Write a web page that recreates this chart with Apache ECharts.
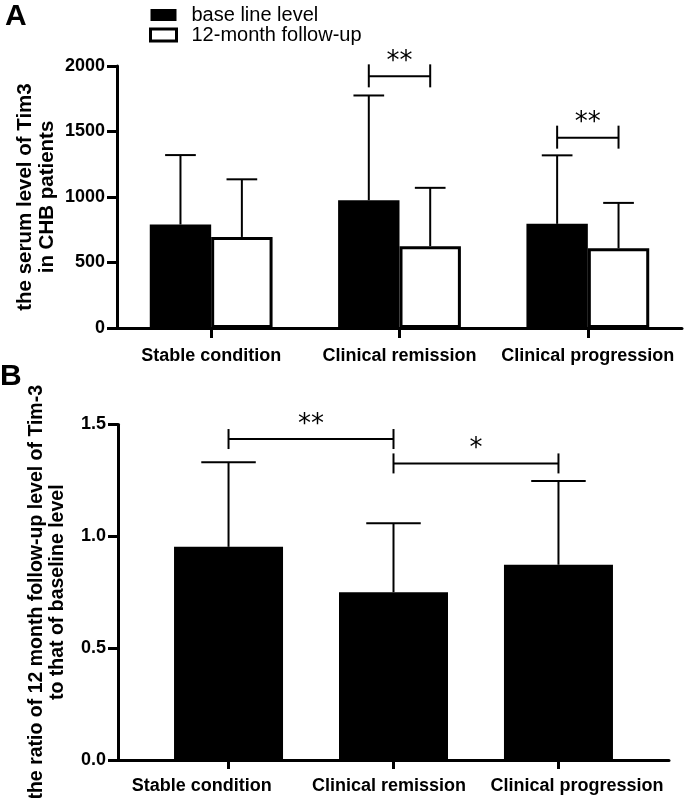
<!DOCTYPE html>
<html><head><meta charset="utf-8">
<script src="https://cdn.jsdelivr.net/npm/echarts@6/dist/echarts.min.js"></script>
<style>html,body{margin:0;padding:0;background:#fff}#c{width:685px;height:798px}</style>
</head><body><div id="c"></div>
<script>
// ---------- data ----------
const categories = ['Stable condition', 'Clinical remission', 'Clinical progression'];
const seriesNames = ['base line level', '12-month follow-up'];
const baselineLevel = [790, 975, 795];
const baselineSD = [530, 800, 523];
const followUpLevel = [695, 625, 608];
const followUpSD = [440, 445, 347];
const ratioLevel = [0.953, 0.75, 0.873];
const ratioSD = [0.378, 0.308, 0.374];
const yTicksA = [0, 500, 1000, 1500, 2000];
const yTicksB = [0, 0.5, 1.0, 1.5];
const sigA = [{cat: 1, y: 1921, text: '**'}, {cat: 2, y: 1453, text: '**'}];
const sigB = [{from: 0, to: 1, y: 1.435, text: '**'}, {from: 1, to: 2, y: 1.326, text: '*'}];
const catPos = [0, 1, 2];

// ---------- style / layout ----------
const FONT = 'Liberation Sans, Arial, Helvetica, sans-serif';
const BAR_FRAC_A = 0.326;
const BAR_W_B = 109;
const STAR_FONT = '26px DejaVu Sans';
const LABEL_POS_B = [-0.163, 0.973, 2.112]; // category label anchors on panel B (spread as in the figure)

const chart = echarts.init(document.getElementById('c'), null, {renderer: 'canvas'});

function errA(side) {
  return function (params, api) {
    const i = api.value(0);
    const band = api.size([1, 0])[0];
    const bw = band * BAR_FRAC_A;
    const p0 = api.coord([i, api.value(1)]);
    const p1 = api.coord([i, api.value(2)]);
    const x = p0[0] + side * bw / 2;
    const cap = bw / 4;
    return {type: 'group', children: [
      {type: 'line', shape: {x1: x, y1: p0[1], x2: x, y2: p1[1]}, style: {stroke: '#000', lineWidth: 2}},
      {type: 'line', shape: {x1: x - cap, y1: p1[1], x2: x + cap, y2: p1[1]}, style: {stroke: '#000', lineWidth: 2}}
    ]};
  };
}
function errB(params, api) {
  const p0 = api.coord([api.value(0), api.value(1)]);
  const p1 = api.coord([api.value(0), api.value(2)]);
  const x = p0[0];
  const cap = BAR_W_B / 4;
  return {type: 'group', children: [
    {type: 'line', shape: {x1: x, y1: p0[1], x2: x, y2: p1[1]}, style: {stroke: '#000', lineWidth: 2}},
    {type: 'line', shape: {x1: x - cap, y1: p1[1], x2: x + cap, y2: p1[1]}, style: {stroke: '#000', lineWidth: 2}}
  ]};
}
function bracket(x1, x2, y, txt, tickUp, tickDown) {
  return {type: 'group', children: [
    {type: 'line', shape: {x1: x1, y1: y, x2: x2, y2: y}, style: {stroke: '#000', lineWidth: 2}},
    {type: 'line', shape: {x1: x1, y1: y - tickUp, x2: x1, y2: y + tickDown}, style: {stroke: '#000', lineWidth: 2}},
    {type: 'line', shape: {x1: x2, y1: y - tickUp, x2: x2, y2: y + tickDown}, style: {stroke: '#000', lineWidth: 2}},
    {type: 'text', x: (x1 + x2) / 2, y: y - 14, style: {text: txt, font: STAR_FONT, fill: '#000', align: 'center', verticalAlign: 'middle'}}
  ]};
}
function sigRenderA(params, api) {
  const s = sigA[params.dataIndex];
  const band = api.size([1, 0])[0];
  const bw = band * BAR_FRAC_A;
  const p = api.coord([s.cat, s.y]);
  return bracket(p[0] - bw / 2, p[0] + bw / 2, p[1], s.text, 12, 11);
}
function sigRenderB(params, api) {
  const s = sigB[params.dataIndex];
  const a = api.coord([s.from, s.y]);
  const b = api.coord([s.to, s.y]);
  return bracket(a[0], b[0], a[1], s.text, 10, 10);
}

const axisLineStyle = {color: '#000', width: 3};
const tickLabel = {color: '#000', fontSize: 18, fontWeight: 'bold', fontFamily: FONT};

const option = {
  animation: false,
  backgroundColor: '#fff',
  title: [
    {text: 'A', left: 5, top: 2, padding: 0, textStyle: {fontSize: 30, fontWeight: 'bold', color: '#000', fontFamily: FONT}},
    {text: 'B', left: 0, top: 362, padding: 0, textStyle: {fontSize: 30, fontWeight: 'bold', color: '#000', fontFamily: FONT}}
  ],
  legend: {
    orient: 'vertical', left: 149, top: 5, padding: 0, itemWidth: 26, itemHeight: 12, itemGap: 0,
    selectedMode: false,
    textStyle: {fontSize: 20, lineHeight: 20, color: '#000', fontFamily: FONT, padding: [0, 0, 0, 10]},
    data: [
      {name: seriesNames[0], icon: 'rect', itemStyle: {color: '#000', borderWidth: 0}},
      {name: seriesNames[1], icon: 'rect', itemStyle: {color: '#fff', borderColor: '#000', borderWidth: 3}}
    ]
  },
  grid: [
    {left: 117, top: 66, width: 565, height: 262, outerBoundsMode: 'none', containLabel: false},
    {left: 118, top: 424.5, width: 551, height: 335.5, outerBoundsMode: 'none', containLabel: false}
  ],
  xAxis: [
    {type: 'category', gridIndex: 0, data: categories,
      axisLine: {show: true, lineStyle: axisLineStyle},
      axisTick: {show: true, alignWithLabel: true, length: 10, lineStyle: {color: '#000', width: 3}},
      axisLabel: Object.assign({margin: 19, interval: 0}, tickLabel),
      splitLine: {show: false}},
    {type: 'value', gridIndex: 1, min: -0.67, max: 2.67,
      axisLine: {show: true, onZero: false, lineStyle: axisLineStyle},
      axisTick: {show: true, length: 9, customValues: catPos, lineStyle: {color: '#000', width: 3}},
      axisLabel: Object.assign({margin: 17, customValues: LABEL_POS_B, hideOverlap: false,
        formatter: function (v) {
          let best = 0;
          LABEL_POS_B.forEach(function (p, i) { if (Math.abs(p - v) < Math.abs(LABEL_POS_B[best] - v)) best = i; });
          return categories[best];
        }}, tickLabel),
      splitLine: {show: false}}
  ],
  yAxis: [
    {type: 'value', gridIndex: 0, min: yTicksA[0], max: yTicksA[yTicksA.length - 1], interval: yTicksA[1] - yTicksA[0],
      name: 'the serum level of Tim3\nin CHB patients', nameLocation: 'middle', nameGap: 59, nameRotate: 90, nameMoveOverlap: false,
      nameTextStyle: {fontSize: 20.5, fontWeight: 'bold', color: '#000', fontFamily: FONT, lineHeight: 22},
      axisLine: {show: true, onZero: false, lineStyle: axisLineStyle},
      axisTick: {show: true, length: 10, lineStyle: {color: '#000', width: 3}},
      axisLabel: Object.assign({margin: 12, formatter: function (v) { return String(v); }}, tickLabel),
      splitLine: {show: false}},
    {type: 'value', gridIndex: 1, min: yTicksB[0], max: yTicksB[yTicksB.length - 1], interval: yTicksB[1] - yTicksB[0],
      name: 'the ratio of 12 month follow-up level of Tim-3\nto that of baseline level', nameLocation: 'middle', nameGap: 50, nameRotate: 90, nameMoveOverlap: false,
      nameTextStyle: {fontSize: 19.5, fontWeight: 'bold', color: '#000', fontFamily: FONT, lineHeight: 21},
      axisLine: {show: true, onZero: false, lineStyle: axisLineStyle},
      axisTick: {show: true, length: 10, lineStyle: {color: '#000', width: 3}},
      axisLabel: Object.assign({margin: 12, formatter: function (v) { return v.toFixed(1); }}, tickLabel),
      splitLine: {show: false}}
  ],
  series: [
    {name: seriesNames[0], type: 'bar', xAxisIndex: 0, yAxisIndex: 0, data: baselineLevel,
      barWidth: (BAR_FRAC_A * 100) + '%', barGap: '0%', itemStyle: {color: '#000'}},
    {name: seriesNames[1], type: 'bar', xAxisIndex: 0, yAxisIndex: 0, data: followUpLevel,
      barWidth: (BAR_FRAC_A * 100) + '%', barGap: '0%', itemStyle: {color: '#fff', borderColor: '#000', borderWidth: 3}},
    {type: 'custom', xAxisIndex: 0, yAxisIndex: 0, renderItem: errA(-1), encode: {x: 0, y: [1, 2]}, z: 5,
      data: catPos.map(function (i) { return [i, baselineLevel[i], baselineLevel[i] + baselineSD[i]]; })},
    {type: 'custom', xAxisIndex: 0, yAxisIndex: 0, renderItem: errA(1), encode: {x: 0, y: [1, 2]}, z: 5,
      data: catPos.map(function (i) { return [i, followUpLevel[i], followUpLevel[i] + followUpSD[i]]; })},
    {type: 'custom', xAxisIndex: 0, yAxisIndex: 0, renderItem: sigRenderA, encode: {x: 0, y: 1}, z: 5,
      data: sigA.map(function (s) { return [s.cat, s.y]; })},
    {name: 'ratio', type: 'bar', xAxisIndex: 1, yAxisIndex: 1, barWidth: BAR_W_B, itemStyle: {color: '#000'},
      data: catPos.map(function (i) { return [i, ratioLevel[i]]; })},
    {type: 'custom', xAxisIndex: 1, yAxisIndex: 1, renderItem: errB, encode: {x: 0, y: [1, 2]}, z: 5,
      data: catPos.map(function (i) { return [i, ratioLevel[i], ratioLevel[i] + ratioSD[i]]; })},
    {type: 'custom', xAxisIndex: 1, yAxisIndex: 1, renderItem: sigRenderB, encode: {x: 0, y: 1}, z: 5,
      data: sigB.map(function (s) { return [s.from, s.y]; })}
  ]
};
chart.setOption(option);
</script></body></html>
